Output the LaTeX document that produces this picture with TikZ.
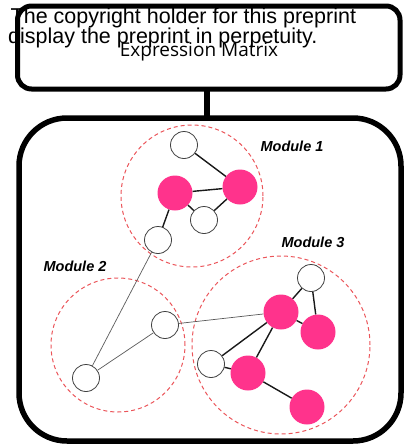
\documentclass[tikz,border=0pt]{standalone}
\usepackage{fontspec}
\setmainfont{Liberation Sans}
\newfontfamily\emfont{Open Sans}
\definecolor{hot}{RGB}{255,51,140}
\definecolor{modred}{RGB}{235,85,90}
\tikzset{
  wnode/.style={circle,draw=black!75,line width=0.8pt,fill=white,minimum size=27pt,inner sep=0pt},
  pnode/.style={circle,fill=hot,minimum size=35pt,inner sep=0pt},
  module/.style={circle,draw=modred,dash pattern=on 4pt off 3pt,line width=1pt,inner sep=0pt},
  edge/.style={line width=1.4pt,black!90},
  thinedge/.style={line width=0.7pt,black!65},
  modlabel/.style={font=\bfseries\itshape\fontsize{14.5}{16}\selectfont,inner sep=0pt,anchor=base}
}
\begin{document}
\begin{tikzpicture}[x=1pt,y=-1pt]
\useasboundingbox (0,0) rectangle (410,448);
% top box
\draw[draw=black,line width=5pt,rounded corners=14pt] (17.5,6) rectangle (400,89);
\node[anchor=base,inner sep=0pt] (em) at (199,56) {\emfont\fontsize{19}{21}\selectfont Expression Matrix};
\draw[line width=6pt] (207,89) -- (207,118);
% main box
\draw[draw=black,line width=5.5pt,rounded corners=48pt] (19,118) rectangle (401,441);
% module circles
\node[module,minimum size=142pt] (m1) at (192,196) {};
\node[module,minimum size=134pt] (m2) at (118,345) {};
\node[module,minimum size=178pt] (m3) at (281,345) {};
\node[modlabel] (l1) at (292,151) {Module 1};
\node[modlabel] (l2) at (75,271) {Module 2};
\node[modlabel] (l3) at (313,247) {Module 3};
% nodes module 1
\node[wnode] (a1) at (184,145) {};
\node[pnode] (a2) at (175,193) {};
\node[pnode] (a3) at (240,187) {};
\node[wnode] (a4) at (204,220) {};
\node[wnode] (a5) at (158,240) {};
% module 2
\node[wnode] (b1) at (165,325) {};
\node[wnode] (b2) at (86,378) {};
% module 3
\node[wnode] (c1) at (311,278) {};
\node[pnode] (c2) at (281,312) {};
\node[pnode] (c3) at (318,332) {};
\node[wnode] (c4) at (211,364) {};
\node[pnode] (c5) at (248,373) {};
\node[pnode] (c6) at (307,407) {};
% edges
\draw[edge] (a1) -- (a3);
\draw[edge] (a2) -- (a3);
\draw[edge] (a3) -- (a4);
\draw[edge] (a2) -- (a4);
\draw[edge] (a2) -- (a5);
\draw[thinedge] (a5) -- (b2);
\draw[thinedge] (b2) -- (b1);
\draw[thinedge] (b1) -- (c2);
\draw[edge] (c1) -- (c2);
\draw[edge] (c1) -- (c3);
\draw[edge] (c2) -- (c3);
\draw[edge] (c2) -- (c4);
\draw[edge] (c2) -- (c5);
\draw[edge] (c4) -- (c5);
\draw[edge] (c5) -- (c6);
% copyright overlay
\node[anchor=base west,inner sep=0pt] (cp1) at (10.5,23) {\fontsize{21.5}{24}\selectfont The copyright holder for this preprint};
\node[anchor=base west,inner sep=0pt] (cp2) at (8,43) {\fontsize{21.5}{24}\selectfont display the preprint in perpetuity.};
\end{tikzpicture}
\end{document}
